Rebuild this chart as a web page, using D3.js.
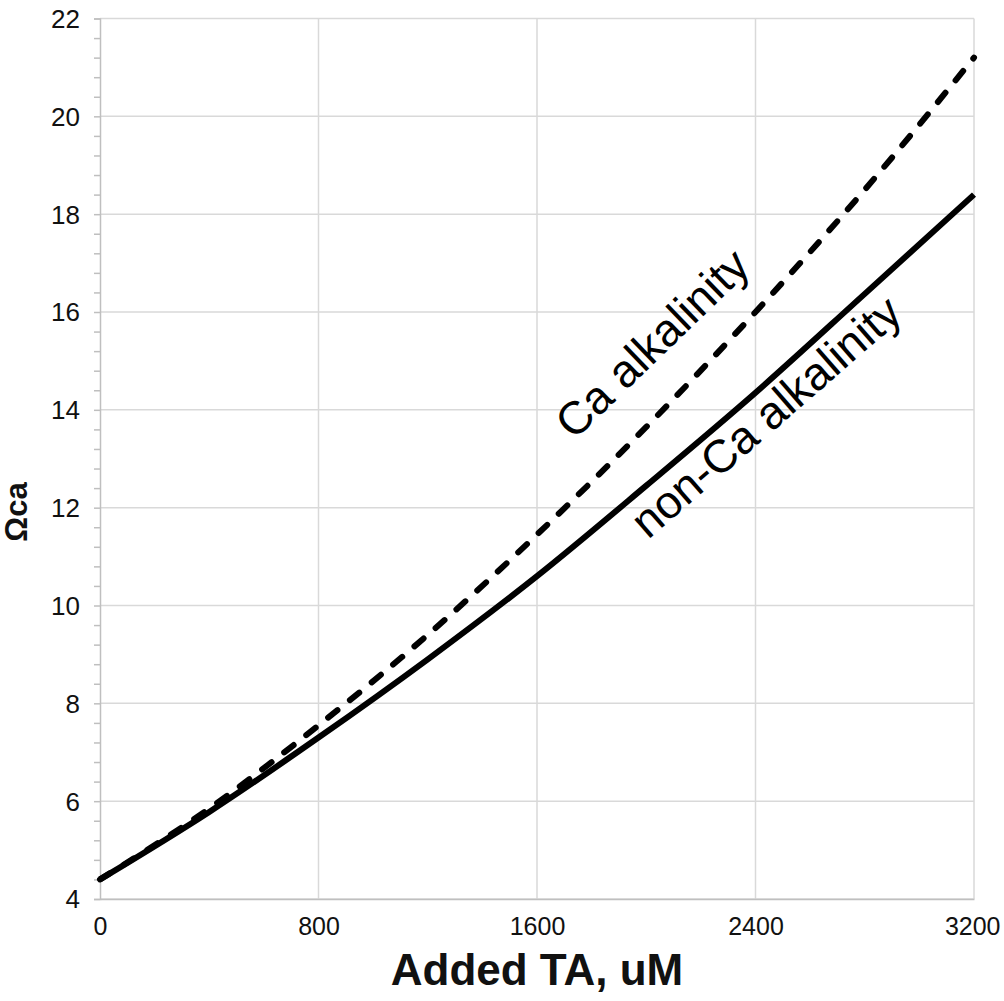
<!DOCTYPE html>
<html><head><meta charset="utf-8">
<script src="https://cdn.jsdelivr.net/npm/d3@7"></script>
<style>body{margin:0;background:#fff;} text{font-family:"Liberation Sans",Arial,Helvetica,sans-serif;}</style>
</head><body>
<svg id="c" width="1004" height="1001"></svg>
<script>
const addedTA = [0, 400, 800, 1200, 1600, 2000, 2400, 2800, 3200];
const caAlkalinity = [4.4, 5.85, 7.55, 9.4, 11.45, 13.65, 16.0, 18.5, 21.2];
const nonCaAlkalinity = [4.4, 5.78, 7.3, 8.9, 10.6, 12.45, 14.35, 16.37, 18.4];
const xTicks = [0, 800, 1600, 2400, 3200];
const yTicks = [4, 6, 8, 10, 12, 14, 16, 18, 20, 22];
const seriesLabels = ["Ca alkalinity", "non-Ca alkalinity"];
const xTitle = "Added TA, uM";
const yTitle = "Ωca";

const svg = d3.select("#c");
const m = {l: 100, r: 30, t: 18.5, b: 102};
const W = 1004, H = 1001;
const x = d3.scaleLinear().domain([0, 3200]).range([m.l, W - m.r]);
const y = d3.scaleLinear().domain([4, 22]).range([H - m.b, m.t]);

const grid = svg.append("g");
grid.selectAll("line.h").data(yTicks).enter().append("line")
  .attr("x1", x(0)).attr("x2", x(3200)).attr("y1", d => y(d)).attr("y2", d => y(d))
  .attr("stroke", "#d9d9d9").attr("stroke-width", 1.5);
grid.selectAll("line.v").data(xTicks.slice(1)).enter().append("line")
  .attr("x1", d => x(d)).attr("x2", d => x(d)).attr("y1", y(4)).attr("y2", y(22))
  .attr("stroke", "#d9d9d9").attr("stroke-width", 1.5);

// y axis with minor ticks
const minor = d3.range(4, 22.001, 0.4);
const yAxis = svg.append("g").attr("transform", `translate(${x(0)},0)`)
  .call(d3.axisLeft(y).tickValues(minor).tickSize(6).tickFormat(""));
yAxis.select(".domain").attr("stroke", "#bfbfbf").attr("stroke-width", 1.5);
yAxis.selectAll(".tick line").attr("stroke", "#bfbfbf").attr("stroke-width", 1.5);
svg.append("g").selectAll("text").data(yTicks).enter().append("text")
  .attr("x", 80).attr("y", d => y(d)).attr("dy", "0.36em")
  .attr("text-anchor", "end").attr("font-size", 26).attr("fill", "#111")
  .text(d => d);

// x axis
const xAxis = svg.append("g").attr("transform", `translate(0,${y(4)})`)
  .call(d3.axisBottom(x).tickValues(xTicks).tickSize(0).tickPadding(18).tickFormat(d3.format("d")));
xAxis.select(".domain").attr("stroke", "#bfbfbf").attr("stroke-width", 1.5);
xAxis.selectAll("text").attr("font-size", 25).attr("fill", "#111")
  .style("font-family", '"Liberation Sans",Arial,sans-serif');
xAxis.selectAll(".tick:last-of-type text").attr("text-anchor", "end").attr("dx", 26);

// lines
const line = d3.line().x((d, i) => x(addedTA[i])).y(d => y(d)).curve(d3.curveMonotoneX);
svg.append("path").datum(nonCaAlkalinity).attr("d", line)
  .attr("fill", "none").attr("stroke", "#000").attr("stroke-width", 6);
svg.append("path").datum(caAlkalinity).attr("d", line)
  .attr("fill", "none").attr("stroke", "#000").attr("stroke-width", 6)
  .attr("stroke-dasharray", "12 16").attr("stroke-linecap", "round");

// curve labels
svg.append("text").attr("transform", "translate(574,441) rotate(-44)")
  .attr("font-size", 46).attr("fill", "#000").text(seriesLabels[0]);
svg.append("text").attr("transform", "translate(648,540) rotate(-41)")
  .attr("font-size", 46).attr("fill", "#000").text(seriesLabels[1]);

// titles
svg.append("text").attr("x", x(1600)).attr("y", 985).attr("text-anchor", "middle")
  .attr("font-size", 44).attr("font-weight", "bold").attr("fill", "#111").text(xTitle);
svg.append("text").attr("transform", `translate(27,512) rotate(-90)`)
  .attr("text-anchor", "middle").attr("font-size", 31).attr("font-weight", "bold")
  .attr("fill", "#111").text(yTitle);
</script>
</body></html>
